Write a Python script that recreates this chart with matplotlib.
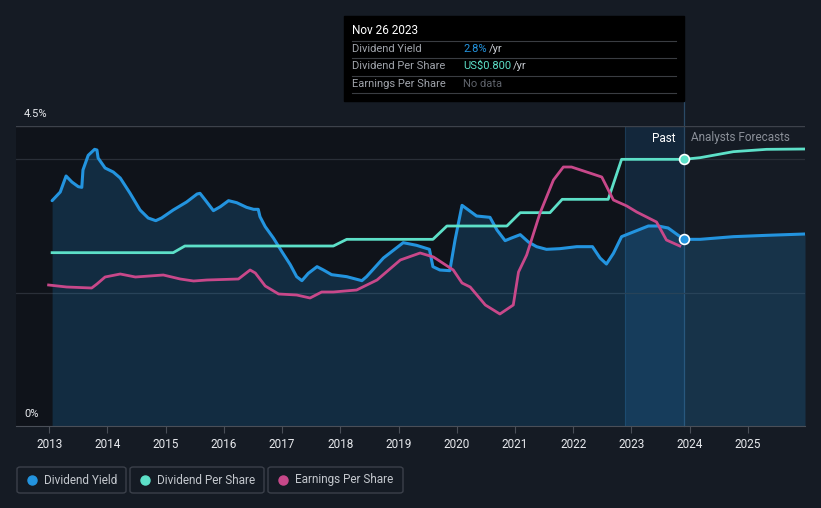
import numpy as np
import matplotlib.pyplot as plt
from matplotlib.patches import Rectangle, FancyBboxPatch

plt.rcParams['font.family'] = ['Roboto', 'DejaVu Sans']

# Dividend yield (%)
yield_years = [2013.05, 2013.19, 2013.29, 2013.39, 2013.50, 2013.56, 2013.58, 2013.67, 2013.78, 2013.82,
               2013.84, 2013.96, 2014.10, 2014.22, 2014.39, 2014.56, 2014.70, 2014.83, 2014.93, 2015.13,
               2015.36, 2015.54, 2015.59, 2015.68, 2015.82, 2015.94, 2016.08, 2016.22, 2016.39, 2016.51,
               2016.59, 2016.62, 2016.71, 2016.85, 2017.00, 2017.14, 2017.25, 2017.34, 2017.45, 2017.60,
               2017.71, 2017.85, 2018.11, 2018.37, 2018.45, 2018.74, 2019.08, 2019.31, 2019.53, 2019.59,
               2019.71, 2019.88, 2019.97, 2020.09, 2020.20, 2020.34, 2020.57, 2020.69, 2020.83, 2020.94,
               2021.09, 2021.23, 2021.37, 2021.54, 2021.77, 2022.06, 2022.33, 2022.46, 2022.57, 2022.69,
               2022.83, 2023.03, 2023.29, 2023.46, 2023.63, 2023.90]
yield_vals = [3.38, 3.51, 3.75, 3.66, 3.59, 3.58, 3.84, 4.06, 4.15, 4.14,
              4.02, 3.87, 3.81, 3.72, 3.49, 3.24, 3.12, 3.08, 3.12, 3.24,
              3.36, 3.48, 3.49, 3.39, 3.23, 3.29, 3.38, 3.35, 3.28, 3.25,
              3.25, 3.14, 2.99, 2.82, 2.61, 2.42, 2.24, 2.18, 2.29, 2.39,
              2.34, 2.27, 2.24, 2.18, 2.24, 2.52, 2.75, 2.71, 2.65, 2.39,
              2.34, 2.33, 2.79, 3.31, 3.24, 3.15, 3.13, 2.94, 2.78, 2.82,
              2.87, 2.76, 2.69, 2.65, 2.66, 2.69, 2.69, 2.52, 2.43, 2.59,
              2.84, 2.91, 3.00, 3.00, 2.97, 2.80]
yield_fc_years = [2023.90, 2024.18, 2024.75, 2025.32, 2025.98]
yield_fc_vals = [2.80, 2.80, 2.84, 2.86, 2.88]

# Dividend per share (US$)
dps_years = [2013.05, 2015.13, 2015.33, 2017.88, 2018.11, 2019.59, 2019.83, 2020.86, 2021.09,
             2021.60, 2021.81, 2022.60, 2022.83, 2023.90]
dps_vals = [0.52, 0.52, 0.54, 0.54, 0.56, 0.56, 0.60, 0.60, 0.64, 0.64, 0.68, 0.68, 0.80, 0.80]
dps_fc_years = [2023.90, 2024.18, 2024.75, 2025.32, 2025.98]
dps_fc_vals = [0.80, 0.805, 0.823, 0.83, 0.831]

# Earnings per share (US$)
eps_years = [2012.99, 2013.30, 2013.73, 2013.82, 2013.96, 2014.22, 2014.48, 2014.96, 2015.25, 2015.48,
             2015.71, 2016.25, 2016.45, 2016.54, 2016.71, 2016.94, 2017.25, 2017.48, 2017.68, 2017.88,
             2018.28, 2018.63, 2019.03, 2019.37, 2019.60, 2019.94, 2020.09, 2020.23, 2020.49, 2020.74,
             2020.97, 2021.06, 2021.20, 2021.43, 2021.66, 2021.83, 2021.97, 2022.49, 2022.69, 2022.92,
             2023.09, 2023.43, 2023.60, 2023.83]
eps_vals = [1.41, 1.39, 1.38, 1.42, 1.49, 1.52, 1.49, 1.51, 1.47, 1.45,
            1.46, 1.47, 1.56, 1.53, 1.40, 1.32, 1.31, 1.28, 1.34, 1.34,
            1.36, 1.46, 1.66, 1.73, 1.69, 1.56, 1.43, 1.39, 1.21, 1.12,
            1.21, 1.54, 1.71, 2.13, 2.46, 2.59, 2.59, 2.49, 2.26, 2.20,
            2.14, 2.04, 1.86, 1.80]

year_ticks = list(range(2013, 2026))
today = 2023.90
band_start = 2022.89

BG = '#151b24'
PAST = '#0f131a'
BLUE = '#2394df'
TEAL = '#5de0c8'
PINK = '#c8488a'

W, H = 821, 508
fig = plt.figure(figsize=(W / 100, H / 100), dpi=100, facecolor=BG)


def fx(px):
    return px / W


def fy(py):
    return 1 - py / H


ax = fig.add_axes([fx(16), fy(426), fx(805) - fx(16), fy(126) - fy(426)])
ax.set_facecolor(BG)
ax.set_xlim(2012.43, 2025.98)
ax.set_ylim(0, 4.5)

# past / recent band
ax.axvspan(2012.43, today, color=PAST, zorder=0, lw=0)
ax.add_patch(Rectangle((band_start, 0), today - band_start, 1.0, transform=ax.get_xaxis_transform(),
                       color='#15304a', alpha=0.7, lw=0, zorder=0.5))
ax.axvline(band_start, color='#1b3a55', lw=0.8, zorder=0.6)
ax.plot([today, today], [0, 1.083], transform=ax.get_xaxis_transform(), color='#2a4a66',
        lw=0.9, clip_on=False, zorder=0.6)

# grid
for g in [2.0, 4.0]:
    ax.axhline(g, color='#2a2f38', lw=0.9, zorder=0.7)
ax.axhline(4.5, color='#3d424b', lw=1.0, zorder=0.7)

# dividend yield
all_y = yield_years + yield_fc_years[1:]
all_v = yield_vals + yield_fc_vals[1:]
ax.fill_between(all_y, 0, all_v, color=BLUE, alpha=0.2, lw=0, zorder=1)
ax.plot(yield_years, yield_vals, color=BLUE, lw=2.2, zorder=3, solid_capstyle='round')
ax.plot(yield_fc_years, yield_fc_vals, color=BLUE, lw=2.2, zorder=3)
ax.scatter([today], [yield_vals[-1]], s=50, color=BLUE, edgecolor='white', lw=1.2, zorder=6)

# dividend per share
ax2 = ax.twinx()
ax2.set_ylim(0, 0.9)
ax2.plot(dps_years, dps_vals, color=TEAL, lw=2.0, zorder=3)
ax2.plot(dps_fc_years, dps_fc_vals, color=TEAL, lw=2.0, zorder=3)
ax2.scatter([today], [dps_vals[-1]], s=50, color=TEAL, edgecolor='white', lw=1.2, zorder=6)

# earnings per share
ax3 = ax.twinx()
ax3.set_ylim(0, 3.0)
ax3.plot(eps_years, eps_vals, color=PINK, lw=2.0, zorder=3)

for a in (ax, ax2, ax3):
    a.set_xlim(2012.43, 2025.98)
    for s in a.spines.values():
        s.set_visible(False)
    a.set_yticks([])
ax2.patch.set_visible(False)
ax3.patch.set_visible(False)
ax2.tick_params(axis='x', bottom=False, labelbottom=False)
ax3.tick_params(axis='x', bottom=False, labelbottom=False)

ax.spines['bottom'].set_visible(True)
ax.spines['bottom'].set_color('#4a4f58')
ax.set_xticks(year_ticks)
ax.set_xticklabels([str(y) for y in year_ticks])
ax.tick_params(axis='x', colors='#4a4f58', labelcolor='#e8eaee', labelsize=8.5, length=5, pad=4)

fig.text(fx(24), fy(114), '4.5%', color='#e8eaee', fontsize=8, va='center')
fig.text(fx(24), fy(414), '0%', color='#e8eaee', fontsize=8, va='center')
fig.text(fx(675), fy(138), 'Past', color='white', fontsize=8.5, va='center', ha='right')
fig.text(fx(691), fy(138), 'Analysts Forecasts', color='#8a8f98', fontsize=8.5, va='center')

# tooltip
fig.patches.append(Rectangle((fx(344), fy(101)), fx(684) - fx(344), fy(16) - fy(101),
                             transform=fig.transFigure, color='black', zorder=5))
fig.text(fx(352), fy(31), 'Nov 26 2023', color='white', fontsize=8.5, va='center', zorder=6)
rows = [('Dividend Yield', '2.8%', BLUE, ' /yr', 49),
        ('Dividend Per Share', 'US$0.800', TEAL, ' /yr', 66),
        ('Earnings Per Share', 'No data', '#5f636b', '', 84)]
for label, val, col, unit, yy in rows:
    fig.text(fx(352), fy(yy), label, color='#a0a4ab', fontsize=8, va='center', zorder=6)
    t = fig.text(fx(463), fy(yy), val, color=col, fontsize=8, va='center', zorder=6)
    if unit:
        ux = 489 if val == '2.8%' else 513
        fig.text(fx(ux), fy(yy), unit.strip(), color='#c8ccd2', fontsize=8, va='center', zorder=6)
for ly in [41, 58, 76, 93]:
    fig.lines.append(plt.Line2D([fx(352), fx(676)], [fy(ly), fy(ly)], transform=fig.transFigure,
                                color='#3a3d42', lw=0.8, zorder=6))

# legend
legend_items = [('Dividend Yield', BLUE, 17, 126), ('Dividend Per Share', TEAL, 130, 264),
                ('Earnings Per Share', PINK, 268, 403)]
for name, col, x0, x1 in legend_items:
    fig.patches.append(FancyBboxPatch((fx(x0), fy(493)), fx(x1) - fx(x0), fy(467) - fy(493),
                                      boxstyle='round,pad=0,rounding_size=0.004',
                                      transform=fig.transFigure, facecolor='none',
                                      edgecolor='#3b404a', lw=1.0))
    fig.lines.append(plt.Line2D([fx(x0 + 15)], [fy(480)], marker='o', markersize=6.5, color=col,
                                transform=fig.transFigure, lw=0))
    fig.text(fx(x0 + 27), fy(480), name, color='#c4c8ce', fontsize=8.5, va='center')

fig.savefig('out.png', dpi=100, facecolor=BG)
